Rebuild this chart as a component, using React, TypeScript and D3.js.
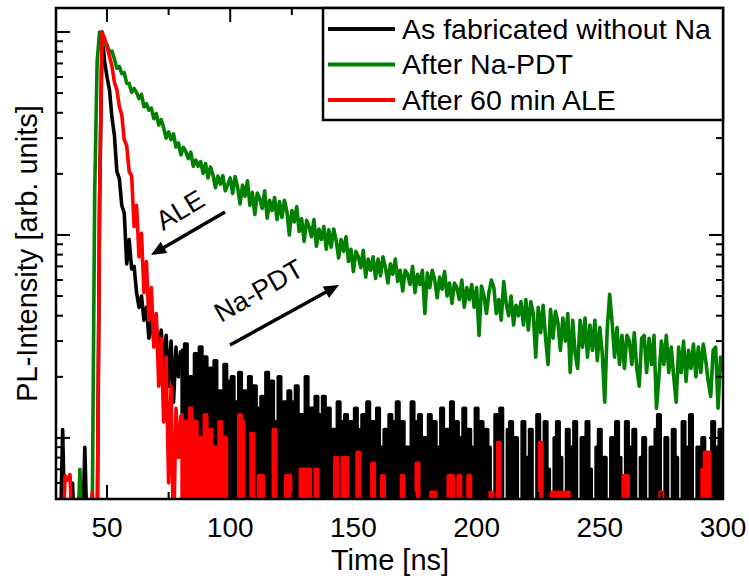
import React from "react";
import * as d3 from "d3";

// time bins (ns), 1 ns spacing from 30 to 300
const times: number[] = d3.range(30, 301);

// normalised PL counts (peak = 1000), 0 = no counts
const asFabricated: number[] = [
  0, 0, 11, 0, 0, 0, 6, 0, 0, 0,
  0, 9, 0, 0, 0, 0, 0, 150, 1000, 720,
  600, 520, 380, 310, 205, 190, 140, 128, 72, 95,
  68, 70, 52, 44, 50, 38, 44, 31, 40, 30,
  36, 25, 34, 22, 32, 18, 30, 15, 28, 20,
  27, 8, 29, 7, 20, 6, 26, 9, 28, 6,
  25, 6, 22, 5, 24, 4, 17, 3, 23, 19,
  4, 20, 2, 15, 21, 3, 17, 1, 20, 2,
  18, 14, 2, 16, 0, 21, 3, 19, 12, 0,
  20, 1, 15, 3, 17, 2, 15, 18, 3, 13,
  0, 20, 1, 14, 2, 16, 13, 3, 16, 0,
  14, 2, 11, 0, 15, 12, 2, 13, 0, 12,
  3, 14, 0, 11, 13, 2, 15, 1, 12, 3,
  14, 9, 2, 11, 0, 13, 3, 12, 15, 2,
  12, 0, 9, 3, 15, 1, 12, 13, 2, 10,
  0, 13, 2, 12, 9, 1, 14, 3, 11, 0,
  15, 2, 12, 0, 10, 14, 3, 11, 2, 9,
  14, 0, 12, 2, 11, 9, 0, 1, 13, 8,
  14, 2, 0, 11, 12, 0, 10, 3, 2, 12,
  2, 8, 11, 0, 1, 13, 9, 0, 12, 7,
  2, 0, 10, 12, 8, 3, 1, 11, 0, 9,
  12, 2, 0, 10, 0, 12, 7, 3, 0, 9,
  11, 0, 8, 2, 1, 10, 0, 12, 8, 0,
  2, 12, 9, 0, 11, 3, 0, 8, 10, 2,
  0, 9, 2, 11, 13, 0, 1, 10, 3, 0,
  11, 8, 0, 2, 12, 9, 0, 13, 2, 0,
  9, 0, 10, 8, 2, 1, 12, 0, 9, 11,
  2,
];

const afterNaPDT: number[] = [
  0, 0, 0, 0, 0, 0, 0, 0, 0, 7,
  0, 0, 0, 0, 4, 160, 720, 1000, 945, 860,
  865, 799, 805, 737, 662, 677, 624, 630, 558, 558,
  504, 527, 503, 470, 493, 428, 443, 412, 422, 374,
  396, 348, 370, 337, 300, 322, 295, 315, 271, 284,
  248, 270, 257, 238, 256, 218, 234, 218, 230, 201,
  225, 191, 216, 198, 171, 195, 178, 196, 165, 177,
  191, 160, 194, 172, 142, 176, 155, 185, 140, 162,
  126, 161, 151, 135, 165, 121, 148, 132, 153, 119,
  146, 122, 148, 131, 100, 132, 116, 138, 104, 120,
  93, 118, 110, 98, 119, 88, 107, 95, 110, 85,
  106, 87, 107, 94, 77, 95, 83, 98, 74, 85,
  66, 83, 78, 69, 84, 62, 76, 67, 78, 61,
  76, 63, 78, 69, 58, 72, 64, 76, 59, 67,
  53, 67, 64, 57, 70, 52, 64, 57, 67, 41,
  65, 55, 67, 60, 49, 62, 54, 66, 50, 58,
  46, 58, 55, 48, 60, 44, 55, 48, 57, 44,
  55, 32, 56, 50, 41, 52, 60, 55, 41, 48,
  38, 59, 46, 40, 50, 36, 45, 40, 47, 36,
  48, 34, 47, 41, 25, 44, 33, 45, 31, 23,
  43, 31, 42, 37, 27, 39, 30, 41, 21, 38,
  26, 22, 38, 28, 39, 25, 36, 27, 38, 24,
  35, 26, 15, 34, 51, 37, 25, 35, 23, 32,
  22, 32, 30, 23, 33, 22, 18, 31, 32, 21,
  31, 23, 32, 14, 20, 30, 23, 32, 21, 28,
  20, 15, 28, 21, 30, 19, 27, 22, 29, 20,
  28, 21, 29, 24, 19, 16, 27, 28, 14, 25,
  21,
];

const afterALE: number[] = [
  0, 0, 0, 6.5, 6.2, 6.6, 0, 0, 0, 0,
  0, 0, 0, 0, 5.4, 0, 0, 150, 1000, 930,
  850, 760, 680, 565, 520, 430, 390, 295, 275, 205,
  196, 110, 140, 78, 102, 52, 74, 38, 55, 28,
  41, 18, 31, 12, 25, 6, 18, 3, 14, 8,
  13, 3, 12, 2, 14, 2, 12, 3, 10, 2,
  13, 2, 11, 3, 9, 2, 12, 3, 10, 0,
  0, 0, 0, 0, 13, 12, 0, 0, 0, 10.5,
  0, 0, 6.5, 6.5, 0, 0, 0, 0, 11, 0,
  0, 0, 0, 6.5, 6.5, 0, 0, 0, 0, 7,
  7, 0, 7, 0, 0, 7, 0, 0, 0, 0,
  0, 0, 0, 8, 0, 0, 8, 8, 0, 0,
  0, 0, 8.5, 0, 0, 0, 0, 0, 7.5, 0,
  0, 0, 6.5, 0, 0, 0, 0, 0, 0, 0,
  6.5, 0, 0, 0, 0, 0, 7.5, 0, 0, 0,
  0, 0, 5.4, 5.4, 0, 0, 0, 0, 0, 6.5,
  6.5, 0, 0, 6.5, 0, 0, 0, 6.5, 0, 0,
  0, 0, 0, 0, 0, 0, 5.4, 0, 0, 9.5,
  0, 0, 0, 0, 0, 0, 0, 0, 0, 0,
  0, 0, 0, 0, 0, 0, 9.5, 0, 0, 0,
  0, 5.4, 0, 5.4, 0, 5.4, 0, 5.4, 0, 0,
  0, 0, 0, 0, 0, 0, 0, 0, 0, 0,
  0, 0, 0, 0, 0, 0, 0, 0, 0, 0,
  6.5, 6.5, 0, 0, 0, 0, 0, 0, 0, 0,
  0, 0, 0, 0, 0, 5.4, 0, 0, 0, 0,
  0, 0, 0, 0, 0, 0, 0, 0, 0, 0,
  0, 0, 7, 8.5, 8.5, 0, 0, 0, 0, 0,
  0,
];

const xMajorTicks = [50, 100, 150, 200, 250, 300];
const xMinorTicks = [75, 125, 175, 225, 275];
const yMajorTicks = [10, 100, 1000];
const yMinorTicks = [6, 7, 8, 9, 20, 30, 40, 50, 60, 70, 80, 90, 200, 300, 400, 500, 600, 700, 800, 900];

const seriesNames = ["As fabricated without Na", "After Na-PDT", "After 60 min ALE"];
const seriesColors = ["#000000", "#008000", "#ff0000"];
const seriesData = [asFabricated, afterNaPDT, afterALE];
// noisy photon-counting tails drawn as histogram steps after this time
const stepFrom = [80, 999, 80];

const W = 749;
const H = 581;
const L = 56, T = 8, R = 723, B = 499;
const FONT = "'Liberation Sans', Arial, Helvetica, sans-serif";

function arrowHead(x1: number, y1: number, x2: number, y2: number, len = 15, half = 6.5) {
  const a = Math.atan2(y2 - y1, x2 - x1);
  const bx = x2 - len * Math.cos(a);
  const by = y2 - len * Math.sin(a);
  const px = -Math.sin(a) * half;
  const py = Math.cos(a) * half;
  return `${x2},${y2} ${bx + px},${by + py} ${bx - px},${by - py}`;
}

function Arrow({ x1, y1, x2, y2 }: { x1: number; y1: number; x2: number; y2: number }) {
  const a = Math.atan2(y2 - y1, x2 - x1);
  const ex = x2 - 10 * Math.cos(a);
  const ey = y2 - 10 * Math.sin(a);
  return (
    <g>
      <line x1={x1} y1={y1} x2={ex} y2={ey} stroke="#000" strokeWidth={3.5} />
      <polygon points={arrowHead(x1, y1, x2, y2)} fill="#000" />
    </g>
  );
}

export default function App() {
  const x = d3.scaleLinear().domain([29.3, 300]).range([L, R]);
  const y = d3.scaleLog().domain([5, 1313]).range([B, T]);

  type P = [number, number];
  const linLine = d3
    .line<P>()
    .x((p) => x(p[0]))
    .y((p) => y(Math.max(p[1], 3)));
  const stepLine = d3
    .line<P>()
    .x((p) => x(p[0]))
    .y((p) => y(Math.max(p[1], 3)))
    .curve(d3.curveStep);
  const stepArea = d3
    .area<P>()
    .x((p) => x(p[0]))
    .y0(B + 60)
    .y1((p) => y(Math.max(p[1], 3)))
    .curve(d3.curveStep);

  const majorLen = 14;
  const minorLen = 7;

  return (
    <svg
      width={W}
      height={H}
      style={{ position: "absolute", left: 0, top: 0, background: "#fff" }}
      fontFamily={FONT}
    >
      <defs>
        <clipPath id="plotClip">
          <rect x={L} y={T} width={R - L} height={B - T} />
        </clipPath>
      </defs>
      <rect x={0} y={0} width={W} height={H} fill="#fff" />

      <g clipPath="url(#plotClip)">
        {seriesData.map((d, i) => {
          const pts: P[] = d.map((v, k) => [times[k], v]);
          const a = pts.filter((p) => p[0] <= stepFrom[i]);
          const b = pts.filter((p) => p[0] >= stepFrom[i]);
          return (
            <g key={i} stroke={seriesColors[i]} strokeWidth={3.6} strokeLinejoin="round">
              <path d={linLine(a) || ""} fill="none" />
              {b.length > 1 && <path d={stepArea(b) || ""} fill={seriesColors[i]} stroke="none" />}
              {b.length > 1 && <path d={stepLine(b) || ""} fill="none" />}
            </g>
          );
        })}
      </g>

      {/* ticks */}
      <g stroke="#000" strokeWidth={2}>
        {xMajorTicks.map((t) => (
          <g key={"xM" + t}>
            <line x1={x(t)} x2={x(t)} y1={B} y2={B - majorLen} />
            <line x1={x(t)} x2={x(t)} y1={T} y2={T + majorLen} />
          </g>
        ))}
        {xMinorTicks.map((t) => (
          <g key={"xm" + t}>
            <line x1={x(t)} x2={x(t)} y1={B} y2={B - minorLen} />
            <line x1={x(t)} x2={x(t)} y1={T} y2={T + minorLen} />
          </g>
        ))}
        {yMajorTicks.map((t) => (
          <g key={"yM" + t}>
            <line x1={L} x2={L + majorLen} y1={y(t)} y2={y(t)} />
            <line x1={R} x2={R - majorLen} y1={y(t)} y2={y(t)} />
          </g>
        ))}
        {yMinorTicks.map((t) => (
          <g key={"ym" + t}>
            <line x1={L} x2={L + minorLen} y1={y(t)} y2={y(t)} />
            <line x1={R} x2={R - minorLen} y1={y(t)} y2={y(t)} />
          </g>
        ))}
      </g>

      <rect x={L} y={T} width={R - L} height={B - T} fill="none" stroke="#000" strokeWidth={2.5} />

      {/* x tick labels */}
      {xMajorTicks.map((t) => (
        <text key={"xl" + t} x={x(t)} y={537} fontSize={28} textAnchor="middle" fill="#000">
          {t}
        </text>
      ))}
      <text x={390} y={570} fontSize={29} textAnchor="middle" fill="#000">
        Time [ns]
      </text>
      <text
        transform={`translate(37,${(T + B) / 2}) rotate(-90)`}
        fontSize={29}
        textAnchor="middle"
        fill="#000"
      >
        PL-Intensity [arb. units]
      </text>

      {/* legend */}
      <rect x={323} y={T} width={R - 323} height={120 - T} fill="#fff" stroke="#000" strokeWidth={2.5} />
      {seriesNames.map((n, i) => {
        const ly = 29 + i * 35.5;
        return (
          <g key={n}>
            <line x1={328} x2={395} y1={ly} y2={ly} stroke={seriesColors[i]} strokeWidth={4} />
            <text x={402} y={ly + 9.5} fontSize={28.5} fill="#000">
              {n}
            </text>
          </g>
        );
      })}

      {/* annotations */}
      <text transform="translate(163,231) rotate(-31)" fontSize={27} fill="#000">
        ALE
      </text>
      <Arrow x1={225} y1={212} x2={151} y2={255} />
      <text transform="translate(221,323) rotate(-30)" fontSize={27} fill="#000">
        Na-PDT
      </text>
      <Arrow x1={230} y1={345} x2={339} y2={285} />
    </svg>
  );
}
